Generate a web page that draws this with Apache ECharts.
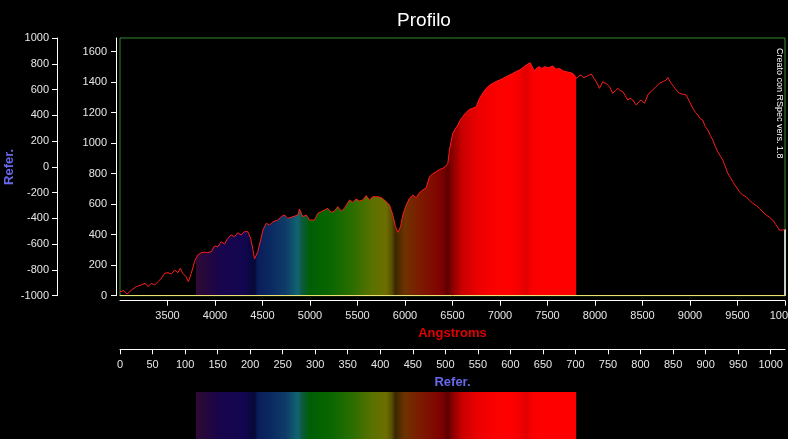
<!DOCTYPE html>
<html>
<head>
<meta charset="utf-8">
<script src="https://cdn.jsdelivr.net/npm/echarts@6/dist/echarts.min.js"></script>
<style>
html,body{margin:0;padding:0;background:#000;}
#chart{width:788px;height:439px;}
</style>
</head>
<body>
<div id="chart"></div>
<script>
// ---- data ----
const wavelengths = [3000,3040,3075,3120,3170,3220,3265,3295,3330,3365,3400,3435,3470,3505,3540,3575,3610,3635,3660,3695,3720,3750,3785,3800,3820,3855,3890,3925,3960,3995,4030,4065,4100,4135,4170,4205,4240,4275,4310,4345,4375,4400,4416,4450,4480,4505,4540,4575,4610,4660,4700,4732,4766,4820,4872,4889,4924,4960,4995,5047,5082,5118,5153,5187,5223,5258,5292,5328,5363,5416,5451,5486,5521,5556,5592,5626,5661,5714,5749,5784,5837,5872,5900,5924,5953,5977,6013,6047,6082,6118,6153,6187,6223,6258,6293,6328,6363,6398,6430,6451,6468,6485,6503,6530,6556,6580,6608,6640,6679,6715,6749,6784,6820,6855,6890,6924,6960,6995,7030,7065,7100,7134,7170,7205,7240,7276,7318,7340,7363,7390,7416,7440,7468,7510,7556,7590,7626,7660,7697,7749,7780,7802,7830,7855,7880,7907,7935,7960,7990,8013,8047,8082,8120,8153,8187,8215,8240,8265,8292,8320,8345,8370,8398,8434,8460,8486,8521,8556,8580,8608,8640,8679,8720,8749,8766,8802,8830,8855,8889,8907,8930,8960,8995,9029,9060,9082,9110,9134,9160,9187,9215,9240,9265,9292,9320,9345,9370,9398,9425,9450,9485,9521,9555,9592,9625,9661,9700,9732,9765,9802,9835,9872,9905,9942,9970,10000];
const intensity = [26,33,11,37,59,70,81,59,81,70,92,114,147,151,142,168,151,180,147,125,92,147,223,245,267,282,285,282,289,326,321,354,339,376,398,387,413,398,420,420,376,300,241,289,365,431,475,464,485,496,520,529,507,518,529,569,518,529,496,496,540,551,562,573,547,555,584,555,573,628,612,634,621,628,656,628,649,649,643,628,595,529,452,416,452,529,595,639,660,643,676,693,708,780,800,813,828,835,850,868,955,1010,1065,1095,1119,1150,1174,1200,1222,1230,1239,1294,1330,1360,1380,1393,1405,1414,1425,1436,1448,1458,1470,1480,1495,1513,1528,1500,1475,1495,1502,1490,1502,1495,1506,1485,1491,1475,1469,1462,1450,1425,1440,1447,1430,1436,1445,1454,1425,1403,1360,1403,1390,1370,1327,1345,1360,1345,1338,1310,1283,1295,1283,1250,1270,1283,1262,1316,1335,1349,1370,1393,1405,1414,1430,1393,1370,1349,1327,1316,1320,1316,1272,1229,1200,1185,1160,1152,1110,1087,1050,1021,980,944,915,890,850,803,775,748,715,682,660,649,625,606,590,573,550,529,515,496,465,431,430,435];

const fillRange = [3800, 7802];           // coloured (visible) part of the spectrum
const angstromTicks = [3500,4000,4500,5000,5500,6000,6500,7000,7500,8000,8500,9000,9500,10000];
const intensityTicks = [0,200,400,600,800,1000,1200,1400,1600];
const referYTicks = [-1000,-800,-600,-400,-200,0,200,400,600,800,1000];
const referXTicks = [0,50,100,150,200,250,300,350,400,450,500,550,600,650,700,750,800,850,900,950,1000];

// spectrum colours: [wavelength, colour]
const spectrumStops = [
  [3800,'#2e0a36'],[3950,'#22063f'],[4050,'#18054c'],[4300,'#120650'],[4380,'#0a0740'],
  [4420,'#060a34'],[4450,'#0a1d5a'],[4600,'#0b2a62'],[4750,'#0f3d68'],[4870,'#106472'],
  [4920,'#0b5a3a'],[5000,'#005f05'],[5200,'#086600'],[5450,'#2b6e00'],[5650,'#5a7200'],
  [5800,'#6c6e00'],[5860,'#5a4f00'],[5900,'#3a2600'],[5940,'#502c00'],[6000,'#6e3200'],
  [6150,'#7c1c00'],[6300,'#800a00'],[6400,'#7a0000'],[6450,'#5c0000'],[6500,'#8a0000'],
  [6600,'#c80000'],[6750,'#e80000'],[6900,'#f80000'],[7100,'#ff0000'],[7200,'#f40000'],
  [7280,'#e00000'],[7330,'#f80000'],[7450,'#ff0000'],[7802,'#ff0000']
];

// ---- build ----
const profile = wavelengths.map((w, i) => [w, intensity[i]]);
const filled = profile.filter(p => p[0] >= fillRange[0] && p[0] <= fillRange[1]);
const lastPoint = profile[profile.length - 1];

function spectrumGradient() {
  const span = fillRange[1] - fillRange[0];
  return new echarts.graphic.LinearGradient(0, 0, 1, 0,
    spectrumStops.map(s => ({offset: Math.min(1, Math.max(0, (s[0] - fillRange[0]) / span)), color: s[1]})));
}

const FONT = 'Liberation Sans, Arial, sans-serif';
const labelColor = '#e6e6e6';
const referColor = '#6868ec';
const plain = v => String(v);

const chart = echarts.init(document.getElementById('chart'), null, {renderer: 'canvas'});
const gridBase = {containLabel: false, outerBoundsMode: 'none'};
chart.setOption({
  backgroundColor: '#000',
  animation: false,
  textStyle: {fontFamily: FONT},
  title: {
    text: 'Profilo', left: 419, top: 6, textAlign: 'center',
    textStyle: {color: '#fff', fontSize: 19, fontWeight: 'normal', fontFamily: FONT}
  },
  grid: [
    Object.assign({left: 120, right: 3, top: 38, height: 257.7, show: true, borderColor: '#2f8a2f', borderWidth: 1, backgroundColor: 'transparent'}, gridBase),
    Object.assign({left: 120, right: 3, top: 300, height: 49.3}, gridBase),
    Object.assign({left: 120, right: 3, top: 392, bottom: 0}, gridBase)
  ],
  xAxis: [
    {gridIndex: 0, type: 'value', min: 3000, max: 10000, position: 'bottom', offset: 0, z: 10,
     axisLine: {show: true, onZero: false, lineStyle: {color: '#ece070', width: 1}},
     axisTick: {show: false}, axisLabel: {show: false}, splitLine: {show: false}},
    {gridIndex: 0, type: 'value', min: 3000, max: 10000, position: 'bottom', offset: 5,
     axisLine: {show: true, onZero: false, lineStyle: {color: '#fff', width: 1}},
     axisTick: {show: true, length: 5, lineStyle: {color: '#fff'}, customValues: angstromTicks},
     axisLabel: {color: labelColor, fontSize: 11, margin: 10, customValues: angstromTicks, formatter: plain},
     splitLine: {show: false},
     name: 'Angstroms', nameLocation: 'middle', nameGap: 26,
     nameTextStyle: {color: '#e00000', fontWeight: 'bold', fontSize: 13}},
    {gridIndex: 1, type: 'value', min: 0, max: 1022, position: 'bottom',
     axisLine: {show: true, onZero: false, lineStyle: {color: '#fff', width: 1}},
     axisTick: {show: true, length: 5, lineStyle: {color: '#fff'}, customValues: referXTicks},
     axisLabel: {color: labelColor, fontSize: 11, margin: 10, customValues: referXTicks, formatter: plain},
     splitLine: {show: false},
     name: 'Refer.', nameLocation: 'middle', nameGap: 27,
     nameTextStyle: {color: referColor, fontWeight: 'bold', fontSize: 13}},
    {gridIndex: 2, type: 'value', min: 3000, max: 10000, show: false}
  ],
  yAxis: [
    {gridIndex: 0, type: 'value', min: 0, max: 1690, position: 'left', offset: 4,
     axisLine: {show: true, onZero: false, lineStyle: {color: '#fff', width: 1}},
     axisTick: {show: true, length: 5, lineStyle: {color: '#fff'}, customValues: intensityTicks},
     axisLabel: {color: labelColor, fontSize: 11, margin: 9, customValues: intensityTicks, formatter: plain},
     splitLine: {show: false}},
    {gridIndex: 0, type: 'value', min: -1000, max: 1000, position: 'left', offset: 63,
     axisLine: {show: true, onZero: false, lineStyle: {color: '#fff', width: 1}},
     axisTick: {show: true, length: 5, lineStyle: {color: '#fff'}, customValues: referYTicks},
     axisLabel: {color: labelColor, fontSize: 11, margin: 8, customValues: referYTicks, formatter: plain},
     splitLine: {show: false},
     name: 'Refer.', nameLocation: 'middle', nameGap: 41, nameMoveOverlap: false,
     nameTextStyle: {color: referColor, fontWeight: 'bold', fontSize: 13}},
    {gridIndex: 1, type: 'value', min: 0, max: 1, show: false},
    {gridIndex: 2, type: 'value', min: 0, max: 1, show: false}
  ],
  series: [
    {type: 'line', name: 'fill', xAxisIndex: 1, yAxisIndex: 0, data: filled, symbol: 'none', silent: true,
     lineStyle: {width: 0, opacity: 0}, areaStyle: {color: spectrumGradient(), opacity: 1}, z: 1},
    {type: 'line', name: 'profile', xAxisIndex: 1, yAxisIndex: 0, data: profile, symbol: 'none', silent: true,
     lineStyle: {color: '#ff1c1c', width: 1}, z: 3},
    {type: 'line', name: 'edge', xAxisIndex: 1, yAxisIndex: 0, data: [[lastPoint[0], 0], lastPoint], symbol: 'none', silent: true,
     lineStyle: {color: '#fff', width: 1.5}, z: 2},
    {type: 'line', name: 'strip', xAxisIndex: 3, yAxisIndex: 3, data: [[fillRange[0], 1], [fillRange[1], 1]], symbol: 'none', silent: true,
     lineStyle: {width: 0, opacity: 0}, areaStyle: {color: spectrumGradient(), opacity: 1}}
  ],
  graphic: [
    {type: 'text', x: 779, y: 48, rotation: -Math.PI / 2, silent: true,
     style: {text: 'Creato con RSpec vers. 1.8', fill: '#fff', font: '9px ' + FONT, textAlign: 'left', textVerticalAlign: 'middle'}}
  ]
});
</script>
</body>
</html>
